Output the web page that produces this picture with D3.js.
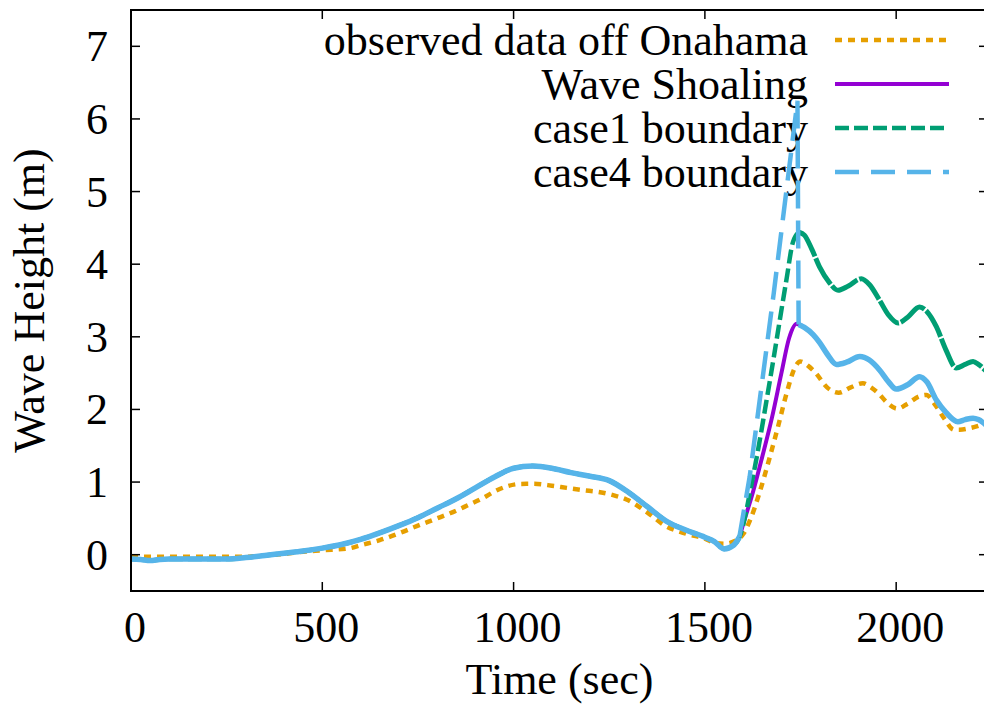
<!DOCTYPE html>
<html>
<head>
<meta charset="utf-8">
<script src="https://cdnjs.cloudflare.com/ajax/libs/d3/7.8.5/d3.min.js"></script>
<style>
  body { margin: 0; background: #fff; }
  text { font-family: "Liberation Serif", "Times New Roman", serif; fill: #000; }
</style>
</head>
<body>
<svg id="chart" width="984" height="704"></svg>
<script>
// Model runs share the same curve up to ~1590 s
var baseTime   = [0, 25, 50, 75, 100, 150, 200, 250, 300, 350, 400, 450, 500, 550, 600, 650, 700, 750, 800, 850,
                  900, 950, 1000, 1050, 1100, 1150, 1200, 1250, 1300, 1350, 1400, 1450, 1500, 1525, 1550, 1575, 1590];
var baseHeight = [-0.06, -0.065, -0.08, -0.065, -0.06, -0.06, -0.06, -0.06, -0.04, -0.01, 0.02, 0.05, 0.09, 0.14, 0.21, 0.30, 0.40, 0.51, 0.64, 0.77,
                  0.92, 1.07, 1.19, 1.22, 1.19, 1.13, 1.08, 1.02, 0.86, 0.66, 0.46, 0.34, 0.24, 0.18, 0.08, 0.13, 0.24];

// Wave Shoaling after 1590 s
var shoalTime   = [1600, 1625, 1650, 1675, 1700, 1720, 1740, 1760, 1783, 1800, 1820, 1844, 1870, 1905, 1930, 1957, 1980,
                   2000, 2030, 2061, 2080, 2105, 2130, 2161, 2180, 2201, 2215, 2240];
var shoalHeight = [0.42, 0.85, 1.35, 1.88, 2.50, 2.98, 3.18, 3.13, 3.03, 2.92, 2.76, 2.62, 2.65, 2.73, 2.68, 2.54, 2.38,
                   2.28, 2.34, 2.45, 2.38, 2.13, 1.96, 1.83, 1.86, 1.88, 1.86, 1.76];

// case1 boundary after 1590 s
var case1Time   = [1626, 1670, 1713, 1730, 1746, 1760, 1780, 1800, 1825, 1848, 1875, 1909, 1930, 1957, 1980, 2005,
                   2030, 2061, 2080, 2105, 2130, 2157, 2180, 2201, 2215, 2240];
var case1Height = [1.08, 2.40, 3.78, 4.30, 4.44, 4.40, 4.20, 3.96, 3.75, 3.64, 3.70, 3.80, 3.72, 3.50, 3.30, 3.19,
                   3.27, 3.41, 3.35, 3.14, 2.82, 2.57, 2.62, 2.66, 2.62, 2.50];

// case4 boundary: sharp rise, then drops back onto the shoaling curve
var case4Time   = [1590, 1617, 1680, 1742, 1745];
var case4Height = [0.24, 1.07, 3.60, 6.25, 3.17];

// Observed data off Onahama
var obsTime   = [0, 100, 200, 300, 350, 400, 450, 500, 572, 600, 650, 703, 750, 800, 834, 880, 920, 950, 982, 1020,
                 1051, 1100, 1139, 1180, 1226, 1260, 1295, 1350, 1396, 1450, 1500, 1527, 1554, 1575, 1601, 1620, 1642,
                 1670, 1691, 1715, 1733, 1749, 1770, 1790, 1820, 1850, 1880, 1913, 1935, 1954, 1975, 2003, 2030, 2060,
                 2079, 2101, 2125, 2151, 2166, 2191, 2240];
var obsHeight = [-0.03, -0.03, -0.03, -0.03, -0.01, 0.01, 0.04, 0.06, 0.09, 0.13, 0.20, 0.30, 0.40, 0.50, 0.57, 0.68, 0.78, 0.87, 0.94, 0.975,
                 0.976, 0.95, 0.92, 0.89, 0.86, 0.82, 0.76, 0.58, 0.40, 0.29, 0.22, 0.16, 0.15, 0.18, 0.29, 0.50, 0.84,
                 1.35, 1.76, 2.25, 2.55, 2.66, 2.60, 2.50, 2.30, 2.23, 2.30, 2.36, 2.30, 2.22, 2.10, 2.01, 2.08, 2.18,
                 2.20, 2.07, 1.88, 1.72, 1.72, 1.74, 1.82];

var xTicks = [0, 500, 1000, 1500, 2000];
var yTicks = [0, 1, 2, 3, 4, 5, 6, 7];

var legendNames = ["observed data off Onahama", "Wave Shoaling", "case1 boundary", "case4 boundary"];

// Colours (gnuplot default set)
var cObs = "#e69f00", cShoal = "#9400d3", cCase1 = "#009e73", cCase4 = "#56b4e9";

// Plot frame
var L = 131, T = 10, R = 988, B = 591;
var fontSize = 44;

var svg = d3.select("#chart");

var x = d3.scaleLinear().domain([0, 2240]).range([L, R]);
var y = d3.scaleLinear().domain([-0.5, 7.5]).range([B, T]);

function zipPts(ts, vs) {
  return ts.map(function(t, i) { return [t, vs[i]]; });
}

var basePts  = zipPts(baseTime, baseHeight);
var shoalPts = basePts.concat(zipPts(shoalTime, shoalHeight));
var case1All = basePts.concat(zipPts(case1Time, case1Height));
// split case1 at its peak: dashed rise, near solid decay
var peakIdx  = d3.maxIndex(case1All, function(d) { return d[1]; });
var case1Rise  = case1All.slice(0, peakIdx + 1);
var case1Decay = case1All.slice(peakIdx);
var risePts  = zipPts(case4Time, case4Height);
var lastRise = risePts[risePts.length - 1];
var case4Tail = [lastRise].concat(zipPts(shoalTime, shoalHeight).filter(function(d) { return d[0] > lastRise[0]; }));

var smooth = d3.line()
  .x(function(d) { return x(d[0]); })
  .y(function(d) { return y(d[1]); })
  .curve(d3.curveMonotoneX);

var straight = d3.line()
  .x(function(d) { return x(d[0]); })
  .y(function(d) { return y(d[1]); });

// Clip
svg.append("defs").append("clipPath").attr("id", "clip")
  .append("rect").attr("x", L).attr("y", T).attr("width", R - L).attr("height", B - T);

// Legend (drawn before the curves, like gnuplot)
var legendY = [40, 84, 128, 172];
var legendStyle = [
  { color: cObs,   width: 4.5, dash: "7,6" },
  { color: cShoal, width: 4,   dash: null },
  { color: cCase1, width: 4.5, dash: "14,5" },
  { color: cCase4, width: 4.5, dash: "24,12" }
];
var legend = svg.append("g").attr("class", "legend");
legendNames.forEach(function(name, i) {
  legend.append("text")
    .attr("x", 808)
    .attr("y", legendY[i])
    .attr("dy", 15)
    .style("font-size", fontSize + "px")
    .style("text-anchor", "end")
    .text(name);
  legend.append("line")
    .attr("x1", 835).attr("x2", 949)
    .attr("y1", legendY[i]).attr("y2", legendY[i])
    .style("stroke", legendStyle[i].color)
    .style("stroke-width", legendStyle[i].width)
    .style("stroke-dasharray", legendStyle[i].dash);
});

// Curves
var plot = svg.append("g").attr("clip-path", "url(#clip)").style("fill", "none");

plot.append("path")
  .attr("d", smooth(zipPts(obsTime, obsHeight)))
  .style("stroke", cObs).style("stroke-width", 4.5).style("stroke-dasharray", "7,6");

plot.append("path")
  .attr("d", smooth(shoalPts))
  .style("stroke", cShoal).style("stroke-width", 4);

plot.append("path")
  .attr("d", smooth(case1Rise))
  .style("stroke", cCase1).style("stroke-width", 4.5).style("stroke-dasharray", "14,5");
plot.append("path")
  .attr("d", smooth(case1Decay))
  .style("stroke", cCase1).style("stroke-width", 5).style("stroke-dasharray", "30,2");

// case4: solid where the points are dense, dashed on the long rise/drop
plot.append("path")
  .attr("d", smooth(basePts))
  .style("stroke", cCase4).style("stroke-width", 5.5).style("stroke-linejoin", "round");
plot.append("path")
  .attr("d", straight(risePts))
  .style("stroke", cCase4).style("stroke-width", 4.5).style("stroke-dasharray", "28,12");
plot.append("path")
  .attr("d", smooth(case4Tail))
  .style("stroke", cCase4).style("stroke-width", 5.5).style("stroke-linejoin", "round");

// Border
svg.append("rect")
  .attr("x", L).attr("y", T).attr("width", R - L).attr("height", B - T)
  .style("fill", "none").style("stroke", "#000").style("stroke-width", 2);

// Ticks (inward, mirrored)
var tickLen = 9;
var ticks = svg.append("g").style("stroke", "#000").style("stroke-width", 1.5);
xTicks.forEach(function(t) {
  ticks.append("line").attr("x1", x(t)).attr("x2", x(t)).attr("y1", B).attr("y2", B - tickLen);
  ticks.append("line").attr("x1", x(t)).attr("x2", x(t)).attr("y1", T).attr("y2", T + tickLen);
});
yTicks.forEach(function(v) {
  ticks.append("line").attr("x1", L).attr("x2", L + tickLen).attr("y1", y(v)).attr("y2", y(v));
  ticks.append("line").attr("x1", R).attr("x2", R - tickLen).attr("y1", y(v)).attr("y2", y(v));
});

// Tick labels
svg.append("g").selectAll("text")
  .data(xTicks).enter().append("text")
  .attr("x", function(d) { return x(d) + 4; })
  .attr("y", 642)
  .style("font-size", fontSize + "px")
  .style("text-anchor", "middle")
  .text(function(d) { return d; });

svg.append("g").selectAll("text")
  .data(yTicks).enter().append("text")
  .attr("x", 108)
  .attr("y", function(d) { return y(d); })
  .attr("dy", 15)
  .style("font-size", fontSize + "px")
  .style("text-anchor", "end")
  .text(function(d) { return d; });

// Axis titles
svg.append("text")
  .attr("x", (L + R) / 2)
  .attr("y", 694)
  .style("font-size", fontSize + "px")
  .style("text-anchor", "middle")
  .text("Time (sec)");

svg.append("text")
  .attr("transform", "translate(44," + ((T + B) / 2) + ") rotate(-90)")
  .style("font-size", fontSize + "px")
  .style("text-anchor", "middle")
  .text("Wave Height (m)");
</script>
</body>
</html>
